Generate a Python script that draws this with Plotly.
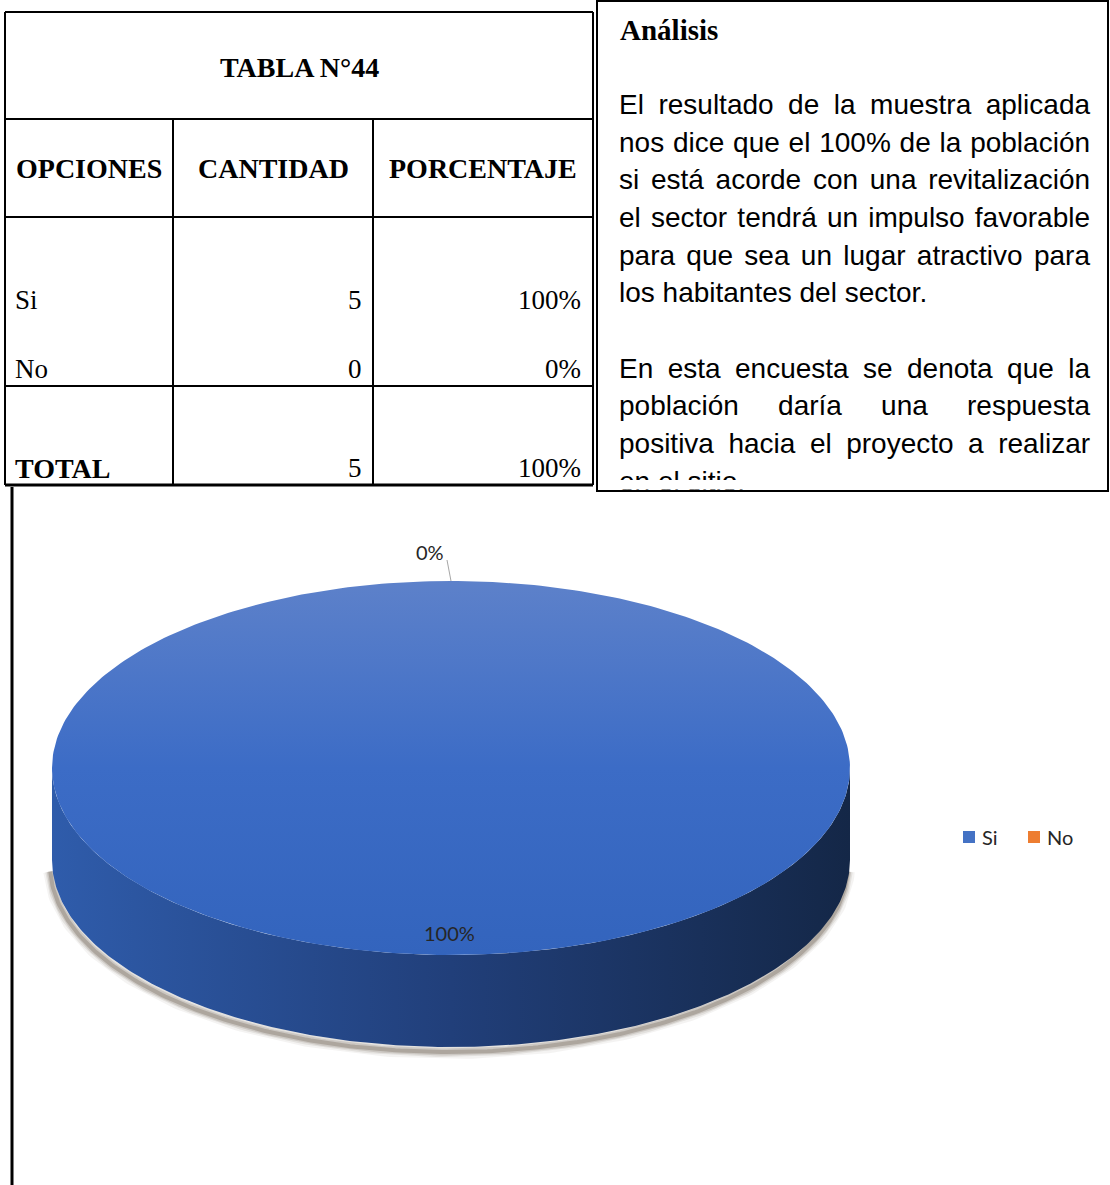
import math
import plotly.graph_objects as go

# ---- survey data -------------------------------------------------------
opciones = ["Si", "No"]
cantidad = [5, 0]
encabezados = ["OPCIONES", "CANTIDAD", "PORCENTAJE"]
titulo_tabla = "TABLA N°44"
etiqueta_total = "TOTAL"
colores = ["#4472C4", "#ED7D31"]

titulo_analisis = "Análisis"
parrafos = [
    ["El resultado de la muestra aplicada",
     "nos dice que el 100% de la población",
     "si está acorde con una revitalización",
     "el sector tendrá un impulso favorable",
     "para que sea un lugar atractivo para",
     "los habitantes del sector."],
    ["En esta encuesta se denota que la",
     "población daría una respuesta",
     "positiva hacia el proyecto a realizar",
     "en el sitio."],
]

total = sum(cantidad)
porcentajes = [round(100 * c / total) for c in cantidad]

# ---- canvas: axes in pixel units ----------------------------------------
W, H = 1110, 1185
SERIF = "Liberation Serif"
SANS = "Liberation Sans"
LABEL_FONT = "Lato"

fig = go.Figure()


def linea(x0, y0, x1, y1, w=2, color="black"):
    fig.add_shape(type="line", x0=x0, y0=y0, x1=x1, y1=y1,
                  line=dict(color=color, width=w), layer="above")


def texto(x, y, s, size, family=SERIF, anchor="left", color="black"):
    fig.add_annotation(x=x, y=y, text=s, showarrow=False, xanchor=anchor,
                       yanchor="middle", font=dict(family=family, size=size, color=color))


# ---- table --------------------------------------------------------------
T_L, T_R, T_T, T_B = 5, 593, 12, 485
R_HEAD, R_COLS, R_TOT = 119, 217, 386
C1, C2 = 173, 373

linea(T_L, T_T, T_R, T_T)
linea(T_L, T_T, T_L, T_B)
linea(T_R, T_T, T_R, T_B)
linea(T_L, R_HEAD, T_R, R_HEAD)
linea(T_L, R_COLS, T_R, R_COLS)
linea(T_L, R_TOT, T_R, R_TOT)
linea(T_L, T_B, T_R, T_B, w=3)
linea(C1, R_HEAD, C1, T_B)
linea(C2, R_HEAD, C2, T_B)

texto((T_L + T_R) / 2, 67, f"<b>{titulo_tabla}</b>", 28, anchor="center")
texto(14, 168, f"<b>{encabezados[0]}</b>", 28)
texto((C1 + C2) / 2, 168, f"<b>{encabezados[1]}</b>", 28, anchor="center")
texto((C2 + T_R) / 2, 168, f"<b>{encabezados[2]}</b>", 28, anchor="center")

filas_y = [300, 369]
for op, c, p, yy in zip(opciones, cantidad, porcentajes, filas_y):
    texto(13, yy, op, 27)
    texto(364, yy, str(c), 27, anchor="right")
    texto(583, yy, f"{p}%", 27, anchor="right")
texto(13, 468, f"<b>{etiqueta_total}</b>", 28)
texto(364, 468, str(total), 27, anchor="right")
texto(583, 468, f"{sum(porcentajes)}%", 27, anchor="right")

# ---- analysis box (justified text) --------------------------------------
B_L, B_R, B_T, B_B = 597, 1108, 1, 491
texto(618, 30, f"<b>{titulo_analisis}</b>", 29)

# Arial / Liberation Sans advance widths (1/1000 em)
ANCHOS = {
    "a": 556, "b": 556, "c": 500, "d": 556, "e": 556, "f": 278, "g": 556,
    "h": 556, "i": 222, "j": 222, "k": 500, "l": 222, "m": 833, "n": 556,
    "o": 556, "p": 556, "q": 556, "r": 333, "s": 500, "t": 278, "u": 556,
    "v": 500, "w": 722, "x": 500, "y": 500, "z": 500, "á": 556, "é": 556,
    "í": 278, "ó": 556, "ú": 556, "ñ": 556, "E": 667, "L": 556, "%": 889,
    ".": 278, " ": 278,
}
for d in "0123456789":
    ANCHOS[d] = 556

FS = 28
X0, X1 = 619, 1090
LINE_H = 37.65


def ancho(palabra):
    return sum(ANCHOS.get(ch, 556) for ch in palabra) * FS / 1000


y_linea = 107
for parrafo in parrafos:
    for i, frase in enumerate(parrafo):
        palabras = frase.split(" ")
        ultima = i == len(parrafo) - 1
        if ultima or len(palabras) == 1:
            hueco = ANCHOS[" "] * FS / 1000
        else:
            hueco = (X1 - X0 - sum(ancho(p) for p in palabras)) / (len(palabras) - 1)
        xs, x = [], X0
        for p in palabras:
            xs.append(x)
            x += ancho(p) + hueco
        fig.add_trace(go.Scatter(
            x=xs, y=[y_linea] * len(xs), text=palabras, mode="text",
            textposition="middle right", hoverinfo="skip", showlegend=False,
            textfont=dict(family=SANS, size=FS, color="black"), cliponaxis=False))
        y_linea += LINE_H
    y_linea += LINE_H

# the box clips its last line
fig.add_shape(type="rect", x0=B_L + 2, x1=B_R - 2, y0=480, y1=B_B - 1.5,
              fillcolor="white", line=dict(width=0), layer="above")
fig.add_shape(type="rect", x0=B_L, x1=B_R, y0=B_T, y1=B_B,
              line=dict(color="black", width=2), fillcolor="rgba(0,0,0,0)", layer="above")

# chart frame left edge
linea(12, 487, 12, H, w=3)

# ---- 3-D pie --------------------------------------------------------------
CX, CY, RX, RY, DEPTH = 451, 768, 399, 187, 92


def punto(a, dy=0.0):
    r = math.radians(a)
    return CX + RX * math.cos(r), CY - RY * math.sin(r) + dy


def arco(a0, a1, n=240, dy=0.0):
    pts = [punto(a0 + (a1 - a0) * k / (n - 1), dy) for k in range(n)]
    return [p[0] for p in pts], [p[1] for p in pts]


# soft drop shadow under the rim
sx, sy = arco(-178, -2, dy=DEPTH)
for w, op in [(14, 0.07), (10, 0.11), (7, 0.17), (4, 0.28)]:
    fig.add_trace(go.Scatter(
        x=[v - 2 for v in sx], y=[v + 5 for v in sy], mode="lines",
        line=dict(color=f"rgba(95,80,65,{op})", width=w),
        hoverinfo="skip", showlegend=False))

lados = {"Si": ["#2f5cab", "#213f7a", "#142747"], "No": ["#f08a45", "#c8621f", "#8f4412"]}
caras = {"Si": ["#5d81ca", "#3c6cc6", "#3364bd"], "No": ["#f4a06a", "#ED7D31", "#d86a20"]}

inicio = 90.0
angulos = []
for op, c in zip(opciones, cantidad):
    barrido = 360.0 * c / total
    fin = inicio - barrido
    angulos.append((inicio, fin))
    if barrido > 0:
        # visible front wall of the slice
        for k in (-1, 0, 1):
            lo, hi = max(fin, -180 + 360 * k), min(inicio, 360 * k)
            if hi > lo:
                tx, ty = arco(lo, hi)
                bx, by = arco(hi, lo, dy=DEPTH)
                cs = lados[op]
                fig.add_trace(go.Scatter(
                    x=tx + bx, y=ty + by, fill="toself", mode="lines",
                    line=dict(width=0), hoverinfo="skip", showlegend=False,
                    fillgradient=dict(type="horizontal",
                                      colorscale=[[0, cs[0]], [0.5, cs[1]], [1, cs[2]]])))
    inicio = fin

for op, c, (a0, a1) in zip(opciones, cantidad, angulos):
    if a0 - a1 > 0:
        ax, ay = arco(a0, a1, n=361)
        cs = caras[op]
        # gradient runs light (far edge) to darker (near edge)
        fig.add_trace(go.Scatter(
            x=[CX] + ax + [CX], y=[CY] + ay + [CY], fill="toself", mode="lines",
            line=dict(width=0), hoverinfo="skip", showlegend=False,
            fillgradient=dict(type="vertical",
                              colorscale=[[0, cs[2]], [0.5, cs[1]], [1, cs[0]]])))

# data labels
for op, p, (a0, a1) in zip(opciones, porcentajes, angulos):
    medio = (a0 + a1) / 2
    if a0 - a1 > 0:
        lx = CX - 2
        ly = CY - 0.88 * RY * math.sin(math.radians(medio))
        texto(lx, ly, f"{p}%", 20, family=LABEL_FONT, anchor="center", color="#262626")
    else:
        ex, ey = punto(medio)
        fig.add_trace(go.Scatter(
            x=[ex, ex - 4], y=[ey, ey - 21], mode="lines",
            line=dict(color="#a6a6a6", width=1), hoverinfo="skip", showlegend=False))
        texto(ex - 21, ey - 29, f"{p}%", 20, family=LABEL_FONT, anchor="center", color="#262626")

# legend
leg_x = [963, 1028]
for op, col, lx in zip(opciones, colores, leg_x):
    fig.add_shape(type="rect", x0=lx, x1=lx + 12, y0=831, y1=843,
                  fillcolor=col, line=dict(width=0), layer="above")
    texto(lx + 17, 837, op, 20, family=LABEL_FONT, color="#262626")

fig.update_layout(
    width=W, height=H, margin=dict(l=0, r=0, t=0, b=0),
    paper_bgcolor="white", plot_bgcolor="white", showlegend=False,
    hovermode=False,
    xaxis=dict(range=[0, W], visible=False, fixedrange=True),
    yaxis=dict(range=[H, 0], visible=False, fixedrange=True),
)

fig.write_html("out.html")
